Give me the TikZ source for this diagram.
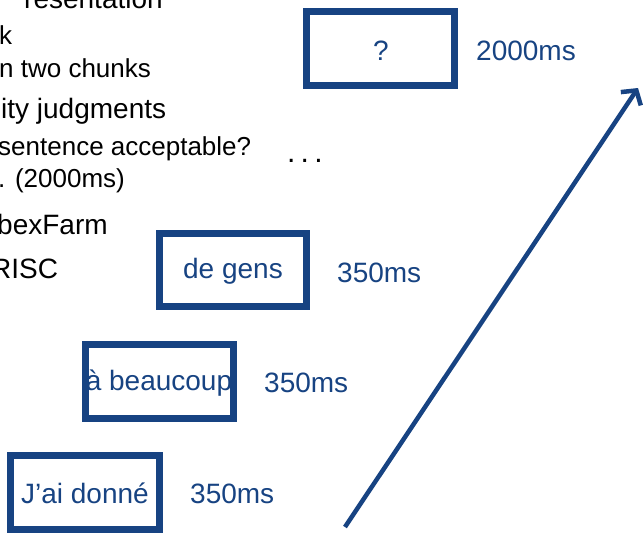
\documentclass[tikz,border=0pt]{standalone}
\usepackage{fontspec}
\setmainfont{Liberation Sans}
\usetikzlibrary{arrows.meta}
\definecolor{slideblue}{RGB}{23,67,130}
\begin{document}
\begin{tikzpicture}[x=1pt,y=-1pt,
  wordbox/.style={draw=slideblue,line width=7pt,inner sep=0pt,rectangle},
  bluetext/.style={text=slideblue,font=\fontsize{28}{30}\selectfont,inner sep=0pt},
  bigtext/.style={text=black,font=\fontsize{28}{30}\selectfont,inner sep=0pt,anchor=base west},
  smalltext/.style={text=black,font=\fontsize{26}{28}\selectfont,inner sep=0pt,anchor=base west},
  timeline/.style={draw=slideblue,line width=4.5pt,-{Straight Barb[length=10pt,width=24pt]}}]
\useasboundingbox (0,0) rectangle (643,533);
\clip (0,0) rectangle (643,533);

% left bullet text (cut off by the slide crop)
\node[bigtext] (t1) at (24,8) {resentation};
\node[smalltext] (t2) at (-1,44) {k};
\node[smalltext] (t3) at (-1,77) {n two chunks};
\node[bigtext] (t4) at (1,118) {ity judgments};
\node[smalltext] (t5) at (-2,155) {sentence acceptable?};
\node[smalltext] (t6) at (-2,187) {. (2000ms)};
\node[bigtext] (t7) at (-3,234) {bexFarm};
\node[bigtext] (t8) at (-9,278) {RISC};

% dots
\node[bigtext,font=\fontsize{30}{32}\selectfont] (dots) at (287,162) {.\kern5.2pt.\kern5.2pt.};

% word boxes
\node[wordbox,minimum width=148pt,minimum height=74pt] (bq) at (380.5,48.5) {};
\node[wordbox,minimum width=147pt,minimum height=73pt] (b3) at (233,270) {};
\node[wordbox,minimum width=148pt,minimum height=74pt] (b2) at (159.5,381.5) {};
\node[wordbox,minimum width=149pt,minimum height=74pt] (b1) at (85,492.5) {};

% words
\node[bluetext,anchor=base] (wq) at (381,60) {?};
\node[bluetext,anchor=base] (w3) at (233,278) {de gens};
\node[bluetext,anchor=base] (w2) at (159,390) {à beaucoup};
\node[bluetext,anchor=base] (w1) at (85,503) {J’ai donné};

% durations
\node[bluetext,anchor=base west] (dq) at (476,60) {2000ms};
\node[bluetext,anchor=base west] (d3) at (337,282) {350ms};
\node[bluetext,anchor=base west] (d2) at (264,392) {350ms};
\node[bluetext,anchor=base west] (d1) at (190,503) {350ms};

% time arrow
\coordinate (tstart) at (345,527);
\coordinate (tend) at (638,88);
\draw[timeline] (tstart) -- (tend);
\end{tikzpicture}
\end{document}
